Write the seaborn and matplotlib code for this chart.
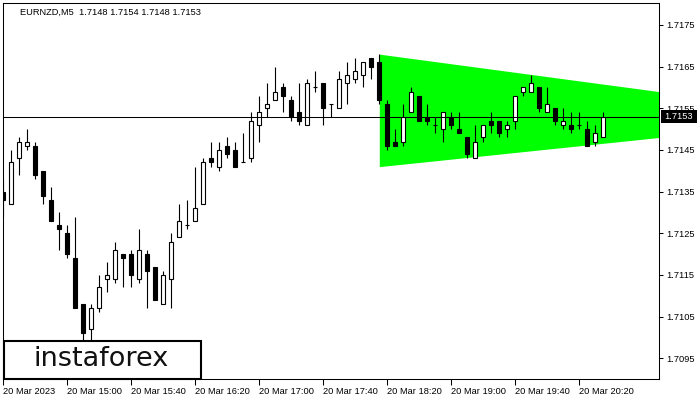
import numpy as np
import pandas as pd
import seaborn as sns
import matplotlib.pyplot as plt
from matplotlib.patches import Rectangle

# EURNZD M5 candles, 20 Mar 2023 14:20 .. 20:35
opens = [1.7135, 1.7132, 1.7143, 1.7146, 1.7146, 1.7140, 1.7133, 1.7127, 1.7125, 1.7119,
         1.7108, 1.7102, 1.7107, 1.7114, 1.7114, 1.7120, 1.7120, 1.7114, 1.7120, 1.7117,
         1.7108, 1.7114, 1.7124, 1.7127, 1.7128, 1.7132, 1.7143, 1.7141, 1.7146, 1.7145,
         1.7142, 1.7143, 1.7151, 1.7155, 1.7157, 1.7160, 1.7157, 1.7154, 1.7151, 1.7160,
         1.7161, 1.7156, 1.7155, 1.7161, 1.7162, 1.7163, 1.7167, 1.7166, 1.7156, 1.7147,
         1.7147, 1.7154, 1.7158, 1.7153, 1.7151, 1.7150, 1.7153, 1.7150, 1.7148, 1.7143,
         1.7148, 1.7152, 1.7152, 1.7150, 1.7152, 1.7159, 1.7159, 1.7160, 1.7154, 1.7155,
         1.7151, 1.7151, 1.7151, 1.7150, 1.7147, 1.7148]
highs = [1.7138, 1.7145, 1.7148, 1.7150, 1.7147, 1.7140, 1.7136, 1.7130, 1.7127, 1.7129,
         1.7108, 1.7108, 1.7115, 1.7118, 1.7123, 1.7120, 1.7121, 1.7126, 1.7121, 1.7117,
         1.7116, 1.7125, 1.7132, 1.7133, 1.7141, 1.7143, 1.7147, 1.7147, 1.7148, 1.7147,
         1.7149, 1.7154, 1.7158, 1.7161, 1.7165, 1.7161, 1.7158, 1.7161, 1.7162, 1.7164,
         1.7161, 1.7156, 1.7164, 1.7166, 1.7167, 1.7166, 1.7167, 1.7168, 1.7157, 1.7150,
         1.7156, 1.7160, 1.7158, 1.7156, 1.7153, 1.7154, 1.7154, 1.7154, 1.7148, 1.7151,
         1.7151, 1.7154, 1.7152, 1.7152, 1.7158, 1.7160, 1.7163, 1.7160, 1.7160, 1.7155,
         1.7155, 1.7154, 1.7154, 1.7152, 1.7151, 1.7154]
lows = [1.7129, 1.7132, 1.7139, 1.7145, 1.7138, 1.7132, 1.7128, 1.7121, 1.7119, 1.7107,
        1.7099, 1.7099, 1.7106, 1.7111, 1.7113, 1.7112, 1.7112, 1.7113, 1.7107, 1.7109,
        1.7108, 1.7107, 1.7124, 1.7126, 1.7128, 1.7132, 1.7141, 1.7140, 1.7143, 1.7141,
        1.7142, 1.7142, 1.7147, 1.7153, 1.7157, 1.7154, 1.7152, 1.7151, 1.7151, 1.7159,
        1.7151, 1.7153, 1.7155, 1.7156, 1.7161, 1.7160, 1.7162, 1.7156, 1.7145, 1.7146,
        1.7146, 1.7154, 1.7152, 1.7151, 1.7149, 1.7147, 1.7150, 1.7149, 1.7143, 1.7143,
        1.7147, 1.7149, 1.7148, 1.7148, 1.7150, 1.7158, 1.7159, 1.7154, 1.7154, 1.7151,
        1.7150, 1.7149, 1.7150, 1.7146, 1.7146, 1.7148]
closes = [1.7133, 1.7142, 1.7147, 1.7147, 1.7139, 1.7134, 1.7128, 1.7126, 1.7120, 1.7107,
          1.7101, 1.7107, 1.7112, 1.7115, 1.7121, 1.7119, 1.7115, 1.7121, 1.7116, 1.7109,
          1.7115, 1.7123, 1.7128, 1.7127, 1.7131, 1.7142, 1.7142, 1.7145, 1.7144, 1.7141,
          1.7142, 1.7152, 1.7154, 1.7156, 1.7159, 1.7158, 1.7153, 1.7152, 1.7161, 1.7160,
          1.7155, 1.7156, 1.7162, 1.7163, 1.7164, 1.7166, 1.7165, 1.7157, 1.7146, 1.7146,
          1.7153, 1.7159, 1.7152, 1.7152, 1.7151, 1.7154, 1.7151, 1.7149, 1.7144, 1.7147,
          1.7151, 1.7151, 1.7149, 1.7151, 1.7158, 1.7160, 1.7161, 1.7155, 1.7156, 1.7152,
          1.7152, 1.7150, 1.7151, 1.7146, 1.7149, 1.7153]

time_labels = ["20 Mar 2023", "20 Mar 15:00", "20 Mar 15:40", "20 Mar 16:20",
               "20 Mar 17:00", "20 Mar 17:40", "20 Mar 18:20", "20 Mar 19:00",
               "20 Mar 19:40", "20 Mar 20:20"]
price_ticks = [1.7095, 1.7105, 1.7115, 1.7125, 1.7135, 1.7145, 1.7155, 1.7165, 1.7175]

# symmetric triangle pattern (start bar -> right edge)
tri_x = [47, 82]
tri_top = [1.7168, 1.7159]
tri_bot = [1.7141, 1.7148]
last_price = 1.7153

df = pd.DataFrame({"open": opens, "high": highs, "low": lows, "close": closes})
df["bar"] = np.arange(len(df))
up = df[df.close >= df.open]
down = df[df.close < df.open]

sns.set_theme(style="white", rc={"axes.edgecolor": "black", "axes.linewidth": 0.75})
plt.rcParams['font.family'] = ['Liberation Sans', 'DejaVu Sans']

fig = plt.figure(figsize=(7, 4), dpi=100)
ax = fig.add_axes([2.7 / 700, 21 / 400, 656.6 / 700, 376 / 400])

ax.fill_between(tri_x, tri_bot, tri_top, color='#00ff00', lw=0, zorder=1)

ax.vlines(df.bar, df.low, df.high, color='black', lw=0.8, zorder=2)
w = 0.48
ax.bar(up.bar, up.close - up.open, bottom=up.open, width=w,
       color='white', edgecolor='black', lw=0.8, zorder=3)
ax.bar(down.bar, down.close - down.open, bottom=down.open, width=w,
       color='black', edgecolor='black', lw=0.8, zorder=3)

ax.axhline(last_price, color='black', lw=0.75, zorder=4)

ax.set_xlim(-0.075, 82.0)
ax.set_ylim(1.709003, 1.718027)

ax.set_xticks(np.arange(0, len(df), 8))
ax.set_xticklabels(time_labels, ha='left', fontsize=6.7)
ax.yaxis.tick_right()
ax.set_yticks(price_ticks)
ax.set_yticklabels([f"{p:.4f}" for p in price_ticks], fontsize=6.7)
ax.tick_params(axis='x', direction='out', length=4, width=0.75, pad=2, colors='black')
ax.tick_params(axis='y', direction='out', length=3, width=0.75, pad=2, colors='black')
ax.tick_params(bottom=True, right=True, left=False)
for s in ax.spines.values():
    s.set_visible(True)
    s.set_color('black')

ax.text(17 / 656.6, 1 - 9 / 376, "EURNZD,M5  1.7148 1.7154 1.7148 1.7153",
        transform=ax.transAxes, fontsize=6.7, va='center', ha='left', color='black')

# logo box
fig.patches.append(Rectangle((3.5 / 700, 21.5 / 400), 197.5 / 700, 37.5 / 400,
                             transform=fig.transFigure, facecolor='white',
                             edgecolor='black', lw=1.5, zorder=5))
fig.text(101 / 700, 1 - 359 / 400, "instaforex", fontsize=19.5, family='DejaVu Sans',
         ha='center', va='center', color='#111111', zorder=6)

# current price label on the axis
fig.patches.append(Rectangle((660.5 / 700, 1 - 122.5 / 400), 36.5 / 700, 12 / 400,
                             transform=fig.transFigure, facecolor='black',
                             edgecolor='black', lw=0, zorder=5))
fig.text(664 / 700, 1 - 116.5 / 400, f"{last_price:.4f}", fontsize=6.7,
         color='white', ha='left', va='center', zorder=6)

fig.savefig("out.png", dpi=100, facecolor='white')
